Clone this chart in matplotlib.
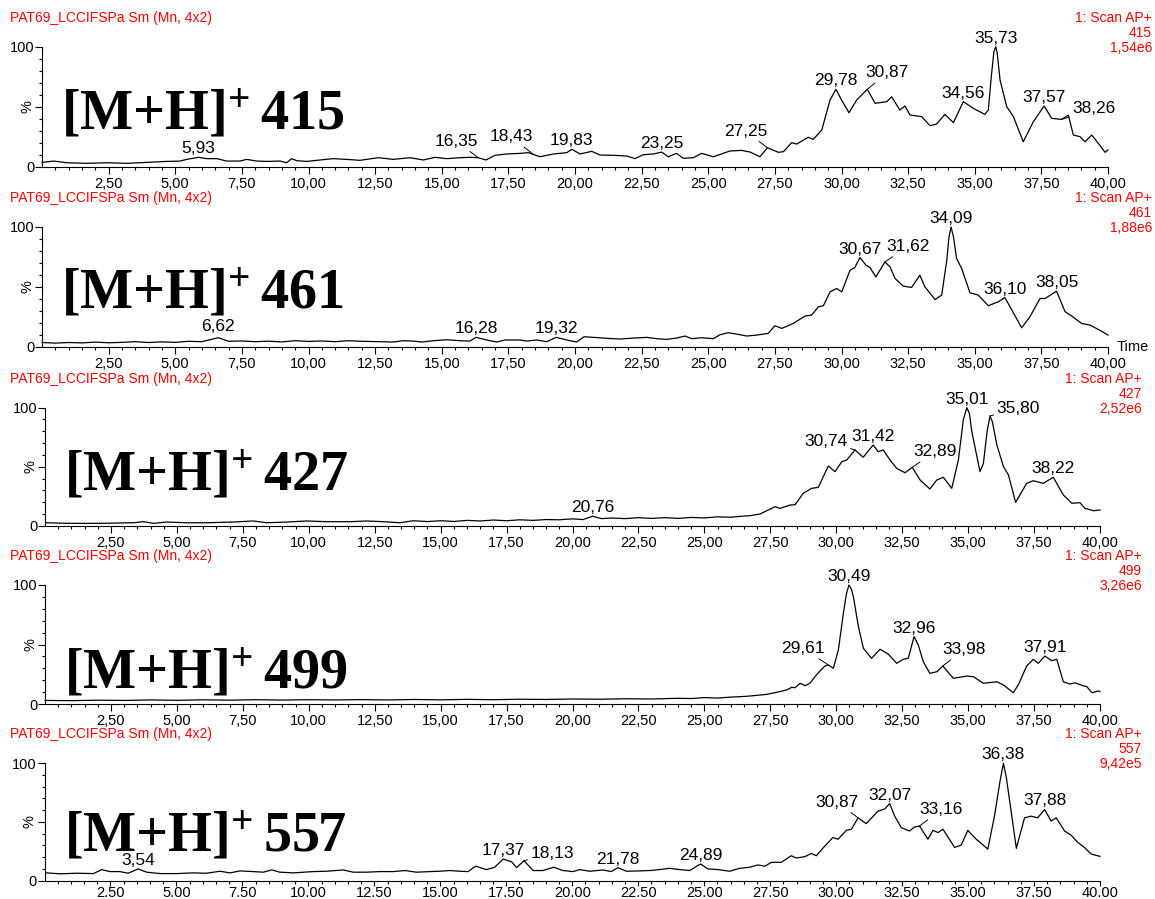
import numpy as np
import matplotlib
matplotlib.use("Agg")
import matplotlib.pyplot as plt
from matplotlib.ticker import FixedLocator, FuncFormatter

plt.rcParams['font.family'] = ['Liberation Sans', 'DejaVu Sans']
plt.rcParams['mathtext.fontset'] = 'custom'
plt.rcParams['mathtext.bf'] = 'Liberation Serif:bold'
plt.rcParams['mathtext.rm'] = 'Liberation Serif'

# ---- data (retention time in min, relative intensity in %) ----
t_415 = [0.0, 0.43, 0.93, 1.68, 2.43, 3.18, 3.93, 4.68, 5.18, 5.43, 5.87, 6.18, 6.56, 6.93, 7.43,
         7.68, 8.06, 8.43, 8.93, 9.18, 9.37, 9.56, 9.93, 10.43, 10.93, 11.43, 11.93, 12.62, 13.18,
         13.81, 14.31, 14.75, 15.19, 15.68, 16.06, 16.37, 16.66, 17.0, 17.44, 17.94, 18.25, 18.69,
         19.19, 19.69, 19.88, 20.19, 20.63, 20.94, 21.44, 21.94, 22.25, 22.56, 22.94, 23.25, 23.5,
         23.81, 24.06, 24.44, 24.75, 25.19, 25.82, 26.25, 26.57, 26.94, 27.22, 27.63, 27.82, 28.13,
         28.32, 28.75, 28.94, 29.26, 29.57, 29.79, 30.0, 30.28, 30.57, 30.97, 31.26, 31.7, 31.88,
         32.19, 32.38, 32.57, 33.01, 33.32, 33.57, 33.88, 34.2, 34.57, 34.95, 35.38, 35.51, 35.62,
         35.72, 35.79, 35.84, 35.95, 36.2, 36.45, 36.82, 37.2, 37.6, 37.89, 38.26, 38.51, 38.7,
         38.95, 39.14, 39.39, 39.64, 39.89, 40.0]
i_415 = [3.6, 4.7, 3.3, 2.8, 3.3, 2.8, 3.6, 4.4, 4.7, 6.1, 7.8, 6.7, 6.7, 4.7, 4.7,
         6.1, 4.7, 4.4, 4.7, 3.3, 6.7, 5.0, 4.4, 5.6, 6.7, 6.1, 5.3, 7.5, 6.1,
         7.5, 5.6, 7.8, 6.7, 7.5, 7.8, 7.5, 5.6, 9.5, 10.6, 11.1, 11.7, 8.3,
         10.6, 11.7, 14.5, 10.6, 12.8, 9.7, 9.5, 8.9, 6.7, 10.0, 10.6, 12.2, 8.3,
         11.1, 7.0, 7.5, 11.1, 8.3, 13.1, 13.6, 12.2, 8.3, 15.8, 12.0, 12.5, 20.0,
         18.9, 24.5, 22.8, 30.6, 55.6, 64.5, 55.6, 45.0, 55.6, 64.5, 52.8, 54.2, 58.3,
         47.2, 50.6, 43.1, 41.7, 34.2, 35.6, 43.6, 36.7, 54.2, 48.6, 43.6, 47.2, 75.0,
         96.0, 100.0, 95.0, 72.2, 50.0, 41.7, 20.8, 37.5, 50.6, 40.3, 39.4, 43.1, 26.4,
         25.0, 20.8, 26.4, 19.4, 12.0, 14.0]

t_461 = [0.0, 0.5, 1.0, 1.5, 2.0, 2.5, 3.0, 3.5, 4.0, 4.5, 5.0, 5.5, 6.0, 6.62, 7.0, 7.5, 8.0,
         8.5, 9.0, 9.5, 10.0, 10.5, 11.0, 11.5, 12.0, 12.68, 13.18, 13.56, 13.93, 14.25, 14.68,
         15.19, 15.68, 16.06, 16.28, 16.69, 17.06, 17.37, 17.94, 18.19, 18.56, 18.94, 19.29, 19.69,
         20.06, 20.34, 20.69, 21.19, 21.69, 22.19, 22.69, 23.06, 23.44, 23.81, 24.13, 24.38, 24.75,
         25.19, 25.44, 25.75, 26.13, 26.44, 26.82, 27.25, 27.5, 27.76, 28.19, 28.63, 28.88, 29.13,
         29.32, 29.57, 29.82, 30.01, 30.32, 30.5, 30.69, 30.92, 31.07, 31.29, 31.63, 31.82, 32.01,
         32.32, 32.63, 32.94, 33.13, 33.51, 33.76, 33.95, 34.03, 34.11, 34.2, 34.32, 34.51, 34.82,
         35.13, 35.51, 35.88, 36.13, 36.45, 36.76, 37.07, 37.45, 37.64, 38.07, 38.39, 38.64, 39.01,
         39.32, 39.64, 40.0]
i_461 = [3.5, 3.0, 3.5, 3.2, 3.8, 3.3, 3.6, 4.2, 3.5, 4.0, 3.6, 4.5, 4.2, 7.5, 4.5, 4.8, 4.2,
         4.6, 4.0, 5.0, 4.4, 4.8, 4.2, 5.0, 4.5, 4.2, 3.9, 5.0, 4.7, 3.9, 5.0,
         5.8, 5.0, 4.7, 7.8, 5.6, 3.9, 5.6, 5.6, 4.7, 5.6, 4.2, 7.8, 5.6,
         3.9, 8.3, 7.8, 7.0, 6.4, 7.2, 7.8, 6.7, 6.1, 7.2, 8.9, 6.7, 7.5,
         6.7, 10.0, 11.7, 10.3, 8.9, 9.7, 11.1, 17.5, 15.3, 19.4, 25.6, 26.4, 33.3,
         34.2, 45.8, 48.6, 45.8, 63.9, 66.1, 74.5, 68.1, 66.1, 58.3, 70.8, 66.7, 57.0,
         50.6, 49.5, 59.7, 50.0, 39.4, 43.1, 72.2, 91.0, 100.0, 92.0, 73.6, 65.3, 45.0,
         43.1, 34.2, 37.5, 41.1, 28.3, 15.8, 25.0, 40.3, 40.3, 46.4, 29.2, 25.6, 19.4,
         18.1, 14.4, 9.7]

t_427 = [0.06, 0.82, 2.09, 3.35, 3.73, 4.11, 4.61, 5.37, 6.13, 7.14, 7.9, 8.41, 9.16, 9.92,
         10.68, 11.56, 12.2, 12.83, 13.46, 13.96, 14.5, 15.0, 15.5, 16.0, 16.5, 17.0, 17.5, 18.0,
         18.5, 19.0, 19.5, 20.0, 20.4, 20.76, 21.1, 21.5, 22.0, 22.5, 23.0, 23.5, 24.0, 24.5, 25.0,
         25.5, 26.0, 26.4, 26.73, 27.11, 27.42, 27.68, 27.87, 28.25, 28.44, 28.75, 29.07, 29.32,
         29.7, 29.95, 30.21, 30.4, 30.71, 31.02, 31.4, 31.59, 31.78, 32.04, 32.29, 32.61, 32.88,
         33.18, 33.55, 33.81, 34.06, 34.38, 34.63, 34.82, 34.95, 35.05, 35.14, 35.45, 35.58, 35.72,
         35.83, 35.92, 36.09, 36.34, 36.53, 36.8, 37.22, 37.47, 37.85, 38.23, 38.61, 38.93, 39.24,
         39.43, 39.75, 40.0]
i_427 = [2.5, 2.0, 2.0, 2.5, 3.4, 2.0, 3.1, 2.5, 2.5, 3.1, 4.0, 2.5, 3.1, 4.0,
         3.4, 3.4, 4.0, 3.4, 2.5, 4.2, 3.5, 4.2, 3.6, 4.5, 4.0, 4.8, 4.2, 5.0,
         4.5, 5.2, 5.0, 5.8, 5.2, 8.0, 6.0, 6.5, 6.0, 6.8, 6.2, 6.8, 6.2, 7.0, 6.6,
         7.5, 7.2, 8.0, 8.5, 9.9, 13.3, 16.1, 14.7, 17.5, 17.8, 27.5, 31.7, 32.5,
         50.6, 45.8, 54.2, 55.7, 64.2, 58.0, 68.4, 62.7, 64.2, 55.7, 48.6, 44.9, 49.5,
         38.7, 31.1, 38.7, 41.0, 31.7, 55.7, 90.0, 100.0, 95.0, 79.7, 45.8, 52.9, 80.0,
         93.0, 88.0, 68.4, 50.0, 43.0, 19.8, 35.9, 38.1, 35.9, 41.0, 26.0, 19.0, 19.5,
         14.7, 12.7, 13.3]

t_499 = [0.0, 1.0, 2.0, 3.0, 4.0, 5.0, 6.0, 7.0, 8.0, 9.0, 10.0, 11.0, 12.0, 13.0, 14.0, 15.0,
         16.0, 17.0, 18.0, 19.0, 20.0, 21.0, 22.0, 23.0, 24.0, 24.5, 25.0, 25.5, 26.0, 26.4,
         26.73, 27.36, 27.74, 28.12, 28.31, 28.44, 28.63, 28.82, 29.0, 29.19, 29.38, 29.57, 29.7,
         29.89, 30.08, 30.27, 30.38, 30.48, 30.57, 30.65, 30.84, 31.03, 31.34, 31.66, 31.97, 32.29,
         32.54, 32.73, 32.95, 33.11, 33.3, 33.55, 33.81, 34.04, 34.44, 34.95, 35.2, 35.58, 36.09,
         36.34, 36.71, 36.9, 37.22, 37.47, 37.66, 37.91, 38.17, 38.36, 38.61, 38.86, 39.05, 39.31,
         39.5, 39.69, 39.94, 40.0]
i_499 = [3.0, 2.8, 3.2, 3.0, 3.4, 3.1, 3.5, 3.2, 3.6, 3.3, 3.6, 3.4, 3.7, 3.4, 3.8, 3.5,
         3.9, 3.6, 4.0, 3.8, 4.2, 4.0, 4.4, 4.2, 4.8, 4.6, 5.4, 5.0, 5.8, 6.2,
         6.7, 8.1, 9.8, 11.8, 14.0, 13.7, 17.4, 15.4, 17.4, 22.9, 27.7, 31.9, 32.8,
         30.0, 45.4, 76.2, 92.0, 100.0, 97.0, 90.2, 65.0, 46.8, 38.4, 46.0, 42.0, 34.2,
         37.6, 38.4, 56.6, 49.6, 35.5, 25.8, 27.1, 31.9, 21.6, 23.5, 22.9, 17.4, 18.7,
         16.0, 9.5, 16.0, 31.9, 37.6, 34.2, 40.3, 36.4, 37.6, 18.7, 16.8, 17.8, 15.7,
         14.6, 9.5, 10.9, 10.4]

t_557 = [0.08, 0.59, 1.22, 1.85, 2.17, 2.48, 2.86, 3.17, 3.55, 3.87, 4.38, 5.01, 5.64, 6.14,
         6.65, 7.03, 7.41, 7.91, 8.29, 8.61, 8.92, 9.42, 10.18, 10.69, 11.32, 11.7, 12.2, 12.71,
         13.21, 13.66, 14.1, 14.6, 14.98, 15.36, 15.74, 16.05, 16.34, 16.75, 17.06, 17.38, 17.7,
         17.89, 18.17, 18.52, 18.89, 19.3, 19.65, 20.03, 20.28, 20.66, 21.17, 21.48, 21.73, 22.05,
         22.56, 22.94, 23.31, 23.69, 24.07, 24.45, 24.86, 25.14, 25.52, 25.97, 26.34, 26.72, 27.04,
         27.29, 27.55, 27.92, 28.3, 28.49, 28.81, 29.06, 29.25, 29.56, 29.88, 30.07, 30.39, 30.58,
         30.83, 31.14, 31.58, 31.84, 32.03, 32.22, 32.47, 32.78, 32.97, 33.16, 33.48, 33.67, 33.86,
         34.05, 34.49, 34.74, 34.99, 35.31, 35.75, 36.0, 36.22, 36.34, 36.45, 36.64, 36.83, 37.14,
         37.39, 37.64, 37.9, 38.15, 38.34, 38.66, 38.91, 39.16, 39.41, 39.67, 40.0]
i_557 = [6.5, 5.7, 6.2, 5.9, 9.3, 7.6, 7.6, 6.2, 9.9, 7.1, 5.9, 5.9, 6.5, 6.2,
         7.9, 6.5, 8.2, 7.6, 7.1, 9.0, 7.1, 6.5, 7.6, 7.9, 9.0, 7.1, 7.1, 7.6,
         7.6, 8.5, 7.1, 7.6, 7.9, 8.5, 7.9, 7.6, 12.2, 9.3, 11.3, 18.3, 16.0,
         11.0, 16.9, 8.5, 8.5, 11.3, 8.5, 7.6, 9.3, 7.9, 9.0, 7.6, 11.0, 7.9,
         8.2, 8.5, 9.3, 10.4, 9.3, 8.5, 14.1, 9.9, 9.3, 7.9, 10.4, 11.3, 13.3,
         12.2, 15.5, 15.5, 21.1, 19.2, 20.3, 23.1, 21.1, 29.1, 36.7, 35.2, 42.8, 43.7,
         53.5, 48.5, 59.1, 61.0, 65.6, 54.9, 45.1, 42.2, 45.6, 46.5, 35.2, 42.8, 40.9,
         43.7, 28.2, 30.2, 42.8, 35.2, 26.8, 54.9, 86.0, 100.0, 88.0, 57.8, 27.4, 53.5,
         54.9, 53.5, 60.6, 50.7, 53.5, 42.2, 38.6, 32.4, 28.2, 22.5, 20.6]

masses = ['415', '461', '427', '499', '557']
scan_max = ['1,54e6', '1,88e6', '2,52e6', '3,26e6', '9,42e5']
times = [t_415, t_461, t_427, t_499, t_557]
intens = [i_415, i_461, i_427, i_499, i_557]
peaks = [
    [5.93, 16.35, 18.43, 19.83, 23.25, 27.25, 29.78, 30.87, 34.56, 35.73, 37.57, 38.26],
    [6.62, 16.28, 19.32, 30.67, 31.62, 34.09, 36.10, 38.05],
    [20.76, 30.74, 31.42, 32.89, 35.01, 35.80, 38.22],
    [29.61, 30.49, 32.96, 33.98, 37.91],
    [3.54, 17.37, 18.13, 21.78, 24.89, 30.87, 32.07, 33.16, 36.38, 37.88],
]
decimal_sep = [',', ',', ',', ',', '.']
header = 'PAT69_LCCIFSPa Sm (Mn, 4x2)'

# ---- layout (pixels) ----
W, H = 1155, 899
boxes = [(42, 1108, 46.7, 166.7), (42, 1108, 227, 346.7), (45, 1100, 407.7, 525.7),
         (45, 1100, 585, 704), (44.5, 1100, 763.3, 880.5)]
right_edge = [1152, 1152, 1142, 1142, 1142]
tag_base = [0.314, 0.32, 0.297, 0.13, 0.248]
xtick_len = [5, 5, 5, 5, 3.6]
xlabel_pad = [2.2, 2.2, 2.2, 2.2, 0.3]
# label offsets (dx, dy in px, leader line) for labels that sit away from their peak
moved = [
    {16.35: (-22, 12, True), 18.43: (-22, 13, True), 27.25: (-22, 12, True),
     30.87: (20, 12, True), 38.26: (32, 6, True)},
    {6.62: (0, 7, False), 31.62: (23, 11, True)},
    {30.74: (-29, 4, True), 32.89: (23, 11, True), 35.80: (28, 3, True)},
    {29.61: (-25, 12, True), 33.98: (21, 12, True)},
    {18.13: (28, 2.5, True), 30.87: (-21, 11, True), 33.16: (22, 12, True)},
]


def peak_point(t, y, rt):
    t = np.asarray(t)
    y = np.asarray(y)
    near = np.abs(t - rt) <= 0.15
    if near.any():
        k = np.argmax(np.where(near, y, -1))
        return t[k], y[k]
    return rt, np.interp(rt, t, y)


fig = plt.figure(figsize=(W / 100, H / 100), dpi=100)

for n in range(5):
    l, r, top, bot = boxes[n]
    ax = fig.add_axes([l / W, 1 - bot / H, (r - l) / W, (bot - top) / H])
    ax.plot(times[n], intens[n], color='black', lw=0.9, clip_on=False,
            solid_joinstyle='round')
    ax.set_xlim(0, 40)
    ax.set_ylim(0, 100)
    for s in ['top', 'right']:
        ax.spines[s].set_visible(False)
    for s in ['left', 'bottom']:
        ax.spines[s].set_linewidth(0.8)

    sep = decimal_sep[n]
    ax.xaxis.set_major_locator(FixedLocator(np.arange(2.5, 40.01, 2.5)))
    ax.xaxis.set_minor_locator(FixedLocator(np.arange(0.5, 40.01, 0.5)))
    ax.xaxis.set_major_formatter(FuncFormatter(lambda v, p, s=sep: f"{v:.2f}".replace('.', s)))
    ax.set_yticks([0, 50, 100])
    ax.set_yticklabels(['0', '%', '100'])
    ax.set_yticks(np.arange(10, 100, 10), minor=True)
    ax.get_yticklabels()[1].set_rotation(90)
    ax.get_yticklabels()[1].set_va('center')
    ax.tick_params(which='major', length=5, width=0.8, labelsize=10.5)
    ax.tick_params(which='minor', length=2.4, width=0.8)
    ax.tick_params(axis='x', which='major', length=xtick_len[n], pad=xlabel_pad[n])
    ax.tick_params(axis='y', pad=0.5)

    # red MassLynx style headers
    ax.annotate(header, xy=(0, 1), xycoords='axes fraction', xytext=(10 - l, 29),
                textcoords='offset pixels', ha='left', va='center', color='red', fontsize=10)
    for line, dy in zip(['1: Scan AP+', masses[n], scan_max[n]], [29, 14, -1]):
        ax.annotate(line, xy=(1, 1), xycoords='axes fraction', xytext=(right_edge[n] - r, dy),
                    textcoords='offset pixels', ha='right', va='center', color='red', fontsize=10)

    # big ion tag
    ax.text(19 / (r - l), tag_base[n], r'$\mathbf{[M{+}H]^{+}\,%s}$' % masses[n],
            transform=ax.transAxes, fontsize=40.5, ha='left', va='baseline')

    # peak labels
    for rt in peaks[n]:
        px, py = peak_point(times[n], intens[n], rt)
        txt = f"{rt:.2f}".replace('.', ',')
        dx, dy, lead = moved[n].get(rt, (0, 4, False))
        arrow = None
        if lead:
            arrow = dict(arrowstyle='-', lw=0.7, color='black', shrinkA=0, shrinkB=0)
        ax.annotate(txt, xy=(px, py), xytext=(dx, dy), textcoords='offset pixels',
                    ha='center', va='baseline', fontsize=12.5, arrowprops=arrow)

    if n == 1:
        ax.annotate('Time', xy=(1, 0), xycoords='axes fraction', xytext=(9, 0),
                    textcoords='offset pixels', ha='left', va='center', fontsize=10.5)

fig.savefig('out.png', dpi=100)
